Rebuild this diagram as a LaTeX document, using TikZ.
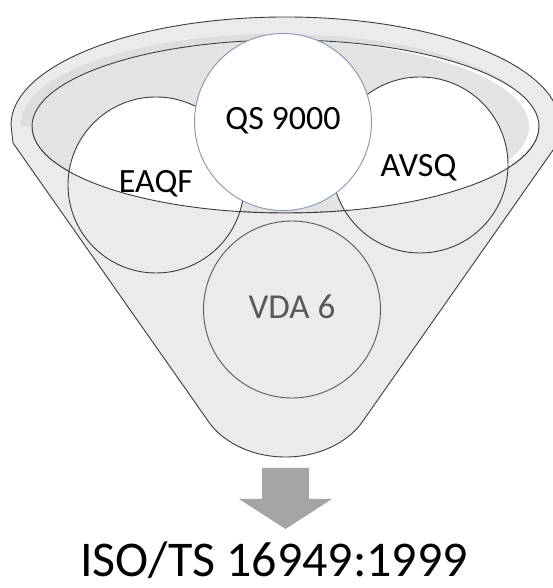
\documentclass[tikz,border=0pt]{standalone}
\usepackage{fontspec}
\setmainfont{Carlito}
\definecolor{rim}{HTML}{EBEBEB}
\definecolor{rimdark}{HTML}{DDDDDD}
\definecolor{inside}{HTML}{E3E3E3}
\definecolor{lineclr}{HTML}{3C3C3C}
\definecolor{qsline}{HTML}{8496B0}
\definecolor{vdatext}{HTML}{595959}
\definecolor{arrowgray}{HTML}{A5A5A5}
% outline of the funnel: top rim, two sides, rounded bottom
\def\fnlbody{(560,463) arc[start angle=0,end angle=180,x radius=274.5,y radius=108]
  -- (13,445) -- (209.7,164.7) .. controls (219,151.5) and (245,131) .. (285.5,131)
  .. controls (326,131) and (352,151.5) .. (361.3,164.7) -- (558,445) -- cycle}
% opening of the funnel
\def\fnlopening{(285.5,461.5) ellipse[x radius=253.5,y radius=86.5]}
% front face: everything below the lower half of the opening
\def\fnlfront{(-10,461.5) -- (32,461.5) arc[start angle=180,end angle=360,x radius=253.5,y radius=86.5]
  -- (600,461.5) -- (600,-10) -- (-10,-10) -- cycle}
\begin{document}
\begin{tikzpicture}[x=1pt,y=1pt,
  outline/.style={draw=lineclr, line width=0.9pt},
  ball/.style={circle, fill=white, draw=lineclr, line width=0.9pt, minimum size=176pt, inner sep=0pt},
  topball/.style={ball, draw=qsline, minimum size=177pt},
  lowball/.style={circle, draw=vdatext, line width=0.9pt, minimum size=177pt, inner sep=0pt},
  lbl/.style={anchor=base, inner sep=0pt, font=\fontsize{34}{40}\selectfont},
  result/.style={anchor=base, inner sep=0pt, font=\fontsize{50}{60}\selectfont}]
\useasboundingbox (0,0) rectangle (552,588);

% funnel body and rim
\fill[rim] \fnlbody;
\begin{scope}
  \clip \fnlbody;
  \fill[rimdark] (278,464) ellipse[x radius=257,y radius=90];
\end{scope}

% inside of the opening, with a highlight on the right
\fill[white] \fnlopening;
\begin{scope}
  \clip \fnlopening;
  \fill[inside] (275.5,461.5) ellipse[x radius=253.5,y radius=86.5];
\end{scope}
\draw[outline] \fnlopening;

% inputs sitting in the opening
\node[ball] (eaqf) at (156,403) {};
\node[ball] (avsq) at (420,423) {};
\node[topball] (qs) at (283,466) {};

% front face of the funnel over the inputs
\begin{scope}
  \clip \fnlbody;
  \fill[rim] \fnlfront;
  \clip \fnlfront;
  \draw[outline] (eaqf.center) circle[radius=88];
  \draw[outline] (avsq.center) circle[radius=88];
\end{scope}
\draw[outline] (32,461.5) arc[start angle=180,end angle=360,x radius=253.5,y radius=86.5];
\draw[outline] \fnlbody;

% input inside the funnel
\node[lowball] (vda) at (292,278.5) {};

% labels
\node[lbl] (qs-t) at (283,458) {QS 9000};
\node[lbl] (eaqf-t) at (156,395) {EAQF};
\node[lbl] (avsq-t) at (418.5,411) {AVSQ};
\node[lbl, text=vdatext, font=\fontsize{35}{40}\selectfont] (vda-t) at (292,269) {VDA 6};

% output arrow and result
\fill[arrowgray] (262,120) -- (309,120) -- (309,89) -- (332,89) -- (285.5,59)
  -- (239,89) -- (262,89) -- cycle;
\node[result] (iso) at (274,12) {ISO/TS 16949:1999};
\end{tikzpicture}
\end{document}
